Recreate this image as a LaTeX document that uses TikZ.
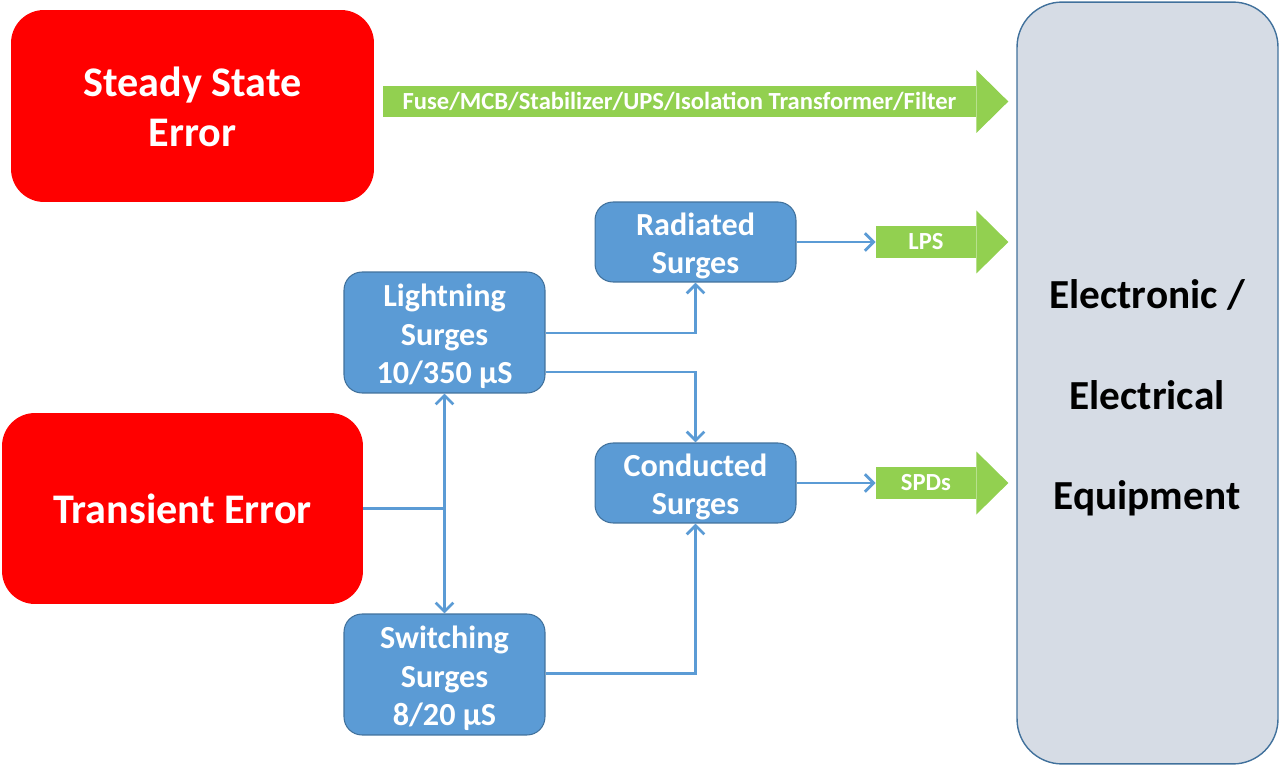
\documentclass[tikz,border=0pt]{standalone}
\usepackage{fontspec}
\setmainfont{Carlito}
\usetikzlibrary{arrows.meta,calc}
\definecolor{red1}{HTML}{FF0000}
\definecolor{blue1}{HTML}{5B9BD5}
\definecolor{blueb}{HTML}{41719C}
\definecolor{green1}{HTML}{92D050}
\definecolor{eqfill}{HTML}{D6DCE5}
\newcommand{\surgestrut}{\rule{0pt}{17.5pt}}
\begin{document}
\begin{tikzpicture}[x=0.02cm,y=-0.02cm,
  errbox/.style={fill=red1, draw=none, rounded corners=0.66cm, text=white,
    font=\bfseries\fontsize{24}{28.3}\selectfont, align=center, inner sep=0},
  surgebox/.style={fill=blue1, draw=blueb, line width=0.6pt, rounded corners=0.36cm,
    text=white, font=\bfseries\fontsize{18.3}{21.9}\selectfont, align=center,
    inner sep=0, minimum width=4.02cm},
  gshaft/.style={fill=green1, inner sep=0, text=white, minimum height=0.63cm},
  conn/.style={draw=blue1, line width=1.6pt, -{Straight Barb[length=5pt,width=10pt]}},
  plainline/.style={draw=blue1, line width=1.6pt},
]
\useasboundingbox (0,0) rectangle (1280,766);
% equipment box
\node[fill=eqfill, draw=blueb, line width=0.8pt, rounded corners=0.9cm, inner sep=0,
  minimum width=5.22cm, minimum height=15.24cm] (eq) at (1147.5,383) {};
\node[align=center, font=\bfseries\fontsize{23.5}{57.2}\selectfont] (eqtext) at (1147,398)
  {Electronic /\\Electrical\\Equipment};
% error boxes
\node[errbox, minimum width=7.26cm, minimum height=3.84cm] (steady) at (192.5,106)
  {\rule{0pt}{17.5pt}Steady State\\Error};
\node[errbox, minimum width=7.22cm, minimum height=3.82cm] (trans) at (182.5,508.5)
  {Transient Error};
% surge boxes
\node[surgebox, minimum height=1.6cm] (rad) at (695.5,242) {\surgestrut Radiated\\Surges};
\node[surgebox, minimum height=2.42cm] (light) at (444.5,332.5) {\surgestrut Lightning\\Surges\\10/350 µS};
\node[surgebox, minimum height=1.6cm] (con) at (695.5,483) {\surgestrut Conducted\\Surges};
\node[surgebox, minimum height=2.42cm] (sw) at (444.5,674.5) {\surgestrut Switching\\Surges\\8/20 µS};
% green arrows
\node[gshaft, minimum width=11.86cm, font=\bfseries\fontsize{14}{16}\selectfont] (fuse) at (679.5,101.5)
  {Fuse/MCB/Stabilizer/UPS/Isolation Transformer/Filter};
\fill[green1] (fuse.east) ++(0,-31.5) -- ++(32,31.5) -- ++(-32,31.5) -- cycle;
\node[gshaft, minimum width=2cm, font=\bfseries\fontsize{14}{16}\selectfont] (lps) at (926,242) {LPS};
\fill[green1] (lps.east) ++(0,-31.5) -- ++(32,31.5) -- ++(-32,31.5) -- cycle;
\node[gshaft, minimum width=2cm, font=\bfseries\fontsize{14}{16}\selectfont] (spd) at (926,483) {SPDs};
\fill[green1] (spd.east) ++(0,-31.5) -- ++(32,31.5) -- ++(-32,31.5) -- cycle;
% connectors
\draw[conn] (rad.east) -- (lps.west);
\draw[conn] (con.east) -- (spd.west);
\draw[conn] ($(light.east)+(0,0.5)$) -| (rad.south);
\draw[conn] ($(light.east)+(0,39.5)$) -| (con.north);
\coordinate (j) at (light.south |- trans.east);
\draw[plainline] (trans.east) -- (j);
\draw[conn] (j) -- (light.south);
\draw[conn] (j) -- (sw.north);
\draw[conn] ($(sw.east)+(0,-1)$) -| (con.south);
\end{tikzpicture}
\end{document}
